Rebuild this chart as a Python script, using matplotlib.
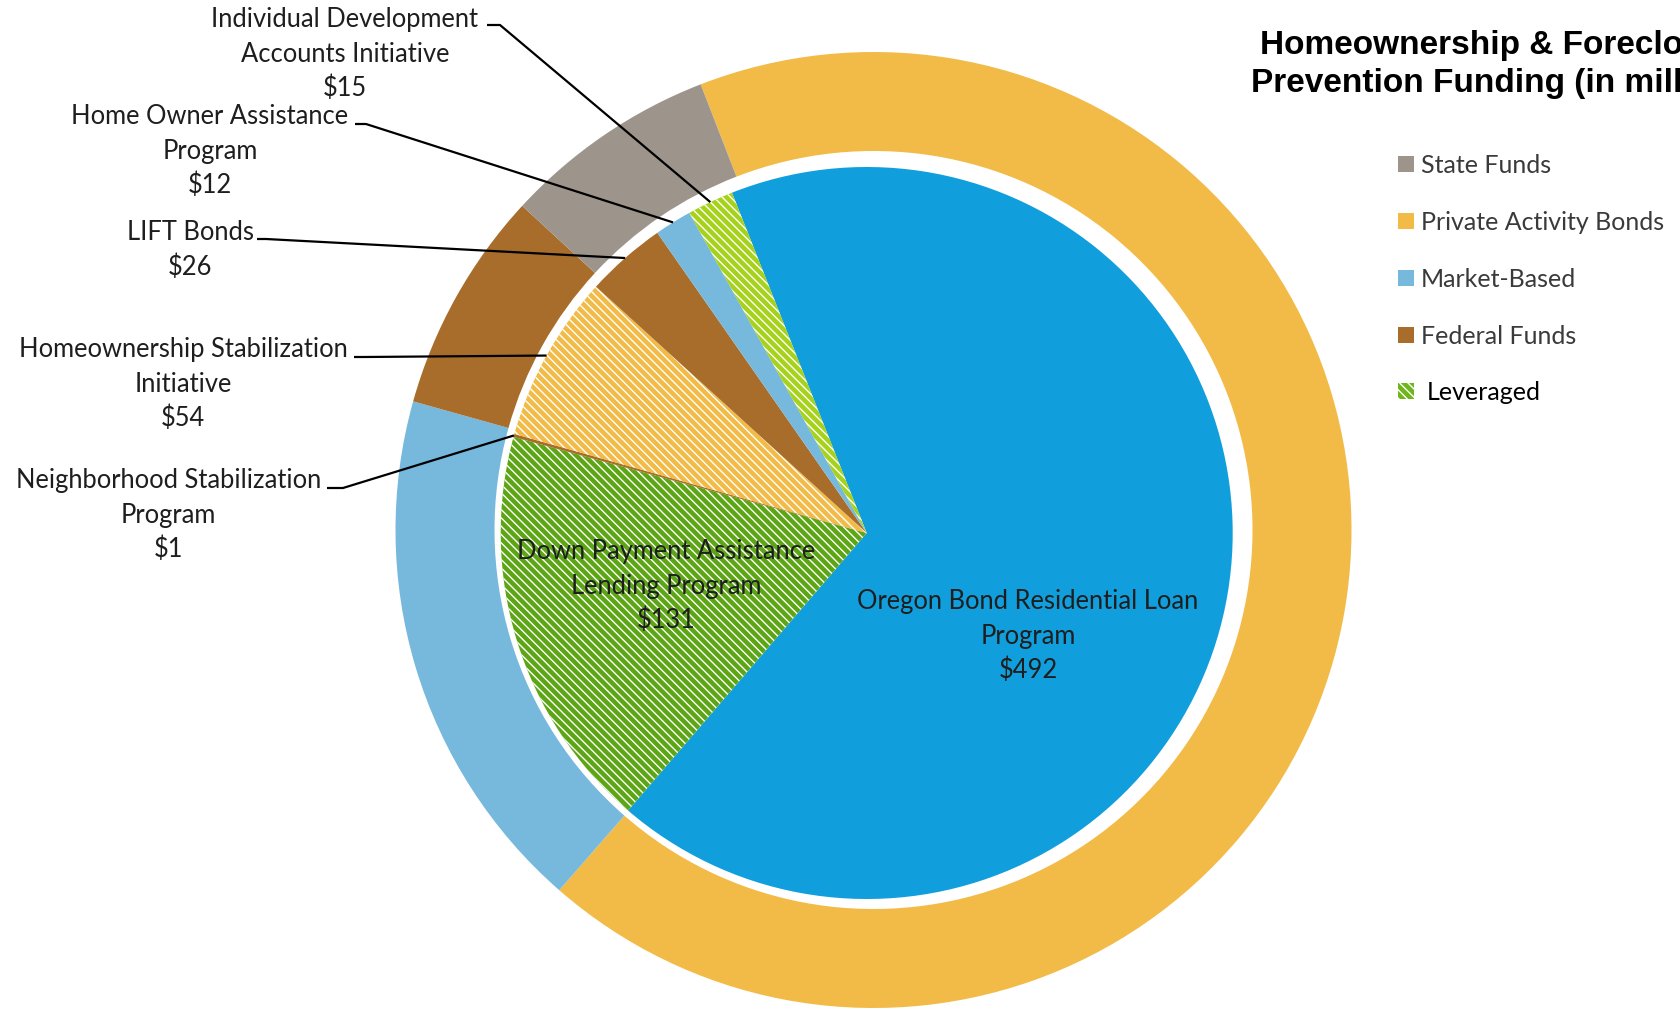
import matplotlib
matplotlib.use("Agg")
import matplotlib.pyplot as plt
from matplotlib.patches import Rectangle
import numpy as np

W, H = 1681, 1015

# ---------------- data ----------------
programs = [
    "Oregon Bond Residential Loan Program",
    "Down Payment Assistance Lending Program",
    "Neighborhood Stabilization Program",
    "Homeownership Stabilization Initiative",
    "LIFT Bonds",
    "Home Owner Assistance Program",
    "Individual Development Accounts Initiative",
]
program_values = [492, 131, 1, 54, 26, 12, 15]
program_label_lines = [
    ["Oregon Bond Residential Loan", "Program"],
    ["Down Payment Assistance", "Lending Program"],
    ["Neighborhood Stabilization", "Program"],
    ["Homeownership Stabilization", "Initiative"],
    ["LIFT Bonds"],
    ["Home Owner Assistance", "Program"],
    ["Individual Development", "Accounts Initiative"],
]
sources = ["Private Activity Bonds", "Market-Based", "Federal Funds", "State Funds"]
source_values = [492, 131, 55, 53]
legend_labels = ["State Funds", "Private Activity Bonds", "Market-Based",
                 "Federal Funds", "Leveraged"]
title_lines = ["Homeownership & Foreclosure", "Prevention Funding (in millions)"]

# ---------------- style ----------------
program_colors = ["#109FDC", "#5CA514", "#A86D2A", "#F2BB48",
                  "#A86D2A", "#76B9DD", "#A6D21C"]
program_hatched = [False, True, False, True, False, False, True]
source_colors = {"State Funds": "#9D958C", "Private Activity Bonds": "#F2BB48",
                 "Market-Based": "#76B9DD", "Federal Funds": "#A86D2A",
                 "Leveraged": "#6FB51C"}
HATCH = "\\\\\\\\"
plt.rcParams["hatch.linewidth"] = 1.0

LABEL_FONT = "Lato"
TEXT_COL = "#1E1E1E"

fig = plt.figure(figsize=(W / 100, H / 100), dpi=100)
ax = fig.add_axes([0, 0, 1, 1])

# ring (outer) and pie (inner)
ring_center = (873.5, H - 530)
ring_r, ring_w = 478, 99
pie_center = (866.7, H - 533)
pie_r = 366

ring_wedges, _ = ax.pie(source_values, radius=ring_r, center=ring_center,
                        startangle=90 + 21.2, counterclock=False,
                        colors=[source_colors[s] for s in sources],
                        wedgeprops=dict(width=ring_w, linewidth=0))
inner_wedges, _ = ax.pie(program_values, radius=pie_r, center=pie_center,
                         startangle=90 + 21.6, counterclock=False,
                         colors=program_colors, wedgeprops=dict(linewidth=0))
for w, h in zip(inner_wedges, program_hatched):
    if h:
        w.set_edgecolor("white")
        w.set_hatch(HATCH)
        w.set_linewidth(0)

ax.set_xlim(0, W)
ax.set_ylim(0, H)
ax.set_aspect("auto")
ax.axis("off")

renderer = fig.canvas.get_renderer()


def fit_size(text, family, target_px, weight="normal"):
    t = fig.text(0, 0, text, fontsize=20, family=family, weight=weight)
    bb = t.get_window_extent(renderer)
    t.remove()
    return 20 * target_px / bb.width


label_fs = fit_size("Individual Development", LABEL_FONT, 268)
legend_fs = fit_size("Private Activity Bonds", LABEL_FONT, 245)

# label layout: center x, first-line center y (image coords), leader stub points
LINE_DY = 34.5
layout = {
    "Oregon Bond Residential Loan Program": dict(x=1028, y0=600, stub=None),
    "Down Payment Assistance Lending Program": dict(x=666.5, y0=550, stub=None),
    "Neighborhood Stabilization Program": dict(x=168.3, y0=479, stub=[(327, 488), (343, 488)]),
    "Homeownership Stabilization Initiative": dict(x=183, y0=348, stub=[(354, 357), (364, 357)]),
    "LIFT Bonds": dict(x=190.5, y0=231, stub=[(257, 239), (266, 239)]),
    "Home Owner Assistance Program": dict(x=210, y0=115, stub=[(355, 124), (366, 124)]),
    "Individual Development Accounts Initiative": dict(x=345, y0=18, stub=[(487, 25), (500, 25)]),
}

baseline_off = 0.36 * label_fs * 100 / 72
for name, val, lines, wdg in zip(programs, program_values, program_label_lines, inner_wedges):
    L = layout[name]
    all_lines = lines + [f"${val}"]
    for i, s in enumerate(all_lines):
        yc = L["y0"] + i * LINE_DY
        ax.text(L["x"], H - (yc + baseline_off), s, ha="center", va="baseline",
                fontsize=label_fs, family=LABEL_FONT, color=TEXT_COL)
    if L["stub"]:
        mid = np.deg2rad((wdg.theta1 + wdg.theta2) / 2)
        px = wdg.center[0] + wdg.r * np.cos(mid)
        py = wdg.center[1] + wdg.r * np.sin(mid)
        xs = [p[0] for p in L["stub"]] + [px]
        ys = [H - p[1] for p in L["stub"]] + [py]
        ax.plot(xs, ys, color="black", lw=1.6, solid_capstyle="butt")

# title (the reference crops it at the right edge of the image)
title_fs = 24
for i, s in enumerate(title_lines):
    ax.text(1507, H - (45 + i * 38.6), s, ha="center", va="center",
            fontsize=title_fs, family="Liberation Sans", weight="bold",
            color="black")

# legend
leg_y = [164, 221, 278, 334.5, 391]
for lab, yc in zip(legend_labels, leg_y):
    hatched = lab == "Leveraged"
    r = Rectangle((1398, H - yc - 8), 16, 16, facecolor=source_colors[lab],
                  edgecolor="white" if hatched else "none", linewidth=0,
                  hatch=HATCH if hatched else None)
    ax.add_patch(r)
    ax.text(1427 if hatched else 1421, H - (yc + 0.36 * legend_fs * 100 / 72), lab,
            ha="left", va="baseline", fontsize=legend_fs, family=LABEL_FONT,
            color="black" if hatched else "#3A3A3A")

fig.savefig("out.png", dpi=100)
